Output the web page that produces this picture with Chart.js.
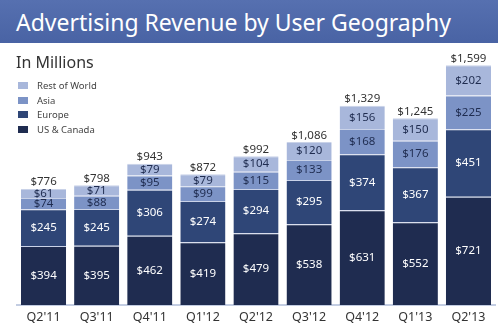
<!DOCTYPE html>
<html>
<head>
<meta charset="utf-8">
<script src="https://cdn.jsdelivr.net/npm/chart.js@4.4.1/dist/chart.umd.min.js"></script>
<style>
  html, body { margin: 0; padding: 0; background: #ffffff; }
  #wrap { position: relative; width: 498px; height: 330px; overflow: hidden; font-family: "Noto Sans", sans-serif; }
  #chart { position: absolute; left: 0; top: 0; }
  #titlebar {
    position: absolute; left: 0; top: 0; width: 498px; height: 43px;
    background: linear-gradient(#5670b0, #4963a4);
    color: #ffffff; font-size: 23px; line-height: 44px; padding-left: 16px; box-sizing: border-box;
    white-space: nowrap;
  }
  #sub { position: absolute; left: 16px; top: 51px; font-size: 16px; color: #333333; }
  #legend { position: absolute; left: 18px; top: 78px; font-size: 9.5px; color: #444444; }
  .item { height: 14.7px; display: flex; align-items: center; }
  .sw { width: 10px; height: 7px; margin-right: 9px; }
</style>
</head>
<body>
<div id="wrap">
  <canvas id="chart" width="498" height="330"></canvas>
  <div id="titlebar">Advertising Revenue by User Geography</div>
  <div id="sub">In Millions</div>
  <div id="legend"></div>
</div>
<script>
// Quarterly advertising revenue, $ millions
const quarters = ["Q2'11", "Q3'11", "Q4'11", "Q1'12", "Q2'12", "Q3'12", "Q4'12", "Q1'13", "Q2'13"];
const usCanada = [394, 395, 462, 419, 479, 538, 631, 552, 721];
const europe = [245, 245, 306, 274, 294, 295, 374, 367, 451];
const asia = [74, 88, 95, 99, 115, 133, 168, 176, 225];
const restOfWorld = [61, 71, 79, 79, 104, 120, 156, 150, 202];
const totals = [776, 798, 943, 872, 992, 1086, 1329, 1245, 1599];

const series = [
  { label: 'US & Canada', data: usCanada, color: '#1f2c50', text: '#ffffff' },
  { label: 'Europe', data: europe, color: '#2f4677', text: '#ffffff' },
  { label: 'Asia', data: asia, color: '#7c93c6', text: '#1f2c50' },
  { label: 'Rest of World', data: restOfWorld, color: '#a8b7db', text: '#1f2c50' }
];

const money = v => '$' + v.toLocaleString('en-US');

// Legend, listed top of stack first
const legendEl = document.getElementById('legend');
series.slice().reverse().forEach(s => {
  const row = document.createElement('div');
  row.className = 'item';
  row.innerHTML = '<span class="sw" style="background:' + s.color + '"></span><span>' + s.label + '</span>';
  legendEl.appendChild(row);
});

// Value inside each segment and total above each stack
const labelPlugin = {
  id: 'stackLabels',
  afterDatasetsDraw(chart) {
    const ctx = chart.ctx;
    ctx.save();
    ctx.textAlign = 'center';
    ctx.font = '11.5px "Noto Sans", sans-serif';
    chart.data.datasets.forEach((ds, di) => {
      const meta = chart.getDatasetMeta(di);
      ctx.fillStyle = series[di].text;
      ctx.textBaseline = 'middle';
      meta.data.forEach((bar, i) => {
        const p = bar.getProps(['x', 'y', 'base'], true);
        ctx.fillText(money(ds.data[i]), p.x, (p.y + p.base) / 2);
      });
    });
    const topMeta = chart.getDatasetMeta(chart.data.datasets.length - 1);
    ctx.fillStyle = '#333333';
    ctx.textBaseline = 'bottom';
    topMeta.data.forEach((bar, i) => {
      const p = bar.getProps(['x', 'y'], true);
      ctx.fillText(money(totals[i]), p.x, p.y - 1);
    });
    ctx.restore();
  }
};

new Chart(document.getElementById('chart'), {
  type: 'bar',
  data: {
    labels: quarters,
    datasets: series.map(s => ({
      label: s.label,
      data: s.data,
      backgroundColor: s.color,
      borderColor: '#c9d2e8',
      borderWidth: { top: 1, left: 0, right: 0, bottom: 0 },
      borderSkipped: false,
      barPercentage: 0.85,
      categoryPercentage: 1.0
    }))
  },
  options: {
    responsive: false,
    animation: false,
    layout: { padding: { left: 17, right: 3, top: 50, bottom: 0 } },
    plugins: { legend: { display: false }, tooltip: { enabled: false } },
    scales: {
      x: {
        stacked: true,
        grid: { display: false, drawTicks: false },
        border: { display: true, color: '#c3cde2', width: 2 },
        ticks: { color: '#333333', padding: 5, font: { family: 'Noto Sans', size: 12.5 } }
      },
      y: {
        stacked: true,
        display: false,
        min: 0,
        max: 1700
      }
    }
  },
  plugins: [labelPlugin]
});
</script>
</body>
</html>
